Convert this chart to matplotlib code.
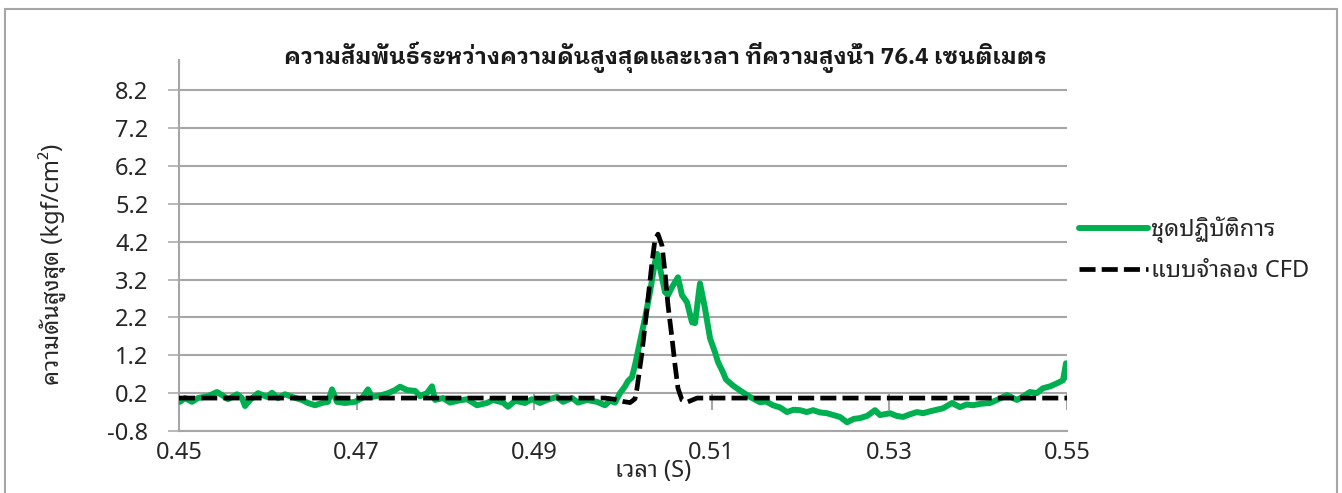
import matplotlib

matplotlib.use("Agg")
import matplotlib.pyplot as plt
from matplotlib.patches import Rectangle

plt.rcParams["font.family"] = ["Noto Sans Thai Looped", "Noto Sans", "DejaVu Sans"]

# ข้อมูลชุดปฏิบัติการ (เวลา s, ความดัน kgf/cm2)
t_lab = [
    0.45011, 0.45068, 0.45146, 0.45214, 0.45327, 0.45428, 0.45484, 0.45552,
    0.45653, 0.45709, 0.45743, 0.45800, 0.45890, 0.45991, 0.46047, 0.46115,
    0.46194, 0.46273, 0.46385, 0.46453, 0.46532, 0.46610, 0.46678, 0.46723,
    0.46779, 0.46869, 0.46982, 0.47061, 0.47128, 0.47173, 0.47286, 0.47354,
    0.47432, 0.47489, 0.47568, 0.47658, 0.47714, 0.47793, 0.47849, 0.47883,
    0.47973, 0.48052, 0.48142, 0.48243, 0.48356, 0.48468, 0.48536, 0.48649,
    0.48705, 0.48784, 0.48896, 0.48975, 0.49065, 0.49144, 0.49257, 0.49324,
    0.49426, 0.49493, 0.49595, 0.49707, 0.49797, 0.49854, 0.49910, 0.49966,
    0.50023, 0.50056, 0.50101, 0.50135, 0.50191, 0.50248, 0.50304, 0.50360,
    0.50383, 0.50417, 0.50473, 0.50507, 0.50552, 0.50619, 0.50664, 0.50721,
    0.50777, 0.50811, 0.50867, 0.50923, 0.50980, 0.51036, 0.51070, 0.51126,
    0.51160, 0.51239, 0.51318, 0.51430, 0.51543, 0.51610, 0.51689, 0.51770,
    0.51847, 0.51920, 0.51993, 0.52070, 0.52140, 0.52220, 0.52297, 0.52370,
    0.52444, 0.52523, 0.52600, 0.52669, 0.52750, 0.52838, 0.52894, 0.53007,
    0.53080, 0.53153, 0.53230, 0.53311, 0.53380, 0.53457, 0.53530, 0.53604,
    0.53705, 0.53795, 0.53870, 0.53941, 0.54030, 0.54133, 0.54230, 0.54324,
    0.54437, 0.54510, 0.54583, 0.54660, 0.54730, 0.54810, 0.54887, 0.54955,
    0.54989, 0.55000,
]
p_lab = [
    -0.03, 0.07, -0.03, 0.07, 0.12, 0.23, 0.15, 0.04,
    0.17, 0.07, -0.14, 0.02, 0.20, 0.10, 0.21, 0.07,
    0.17, 0.10, 0.02, -0.06, -0.12, -0.06, -0.03, 0.30,
    -0.03, -0.06, -0.03, 0.07, 0.30, 0.10, 0.15, 0.20,
    0.28, 0.37, 0.28, 0.26, 0.12, 0.20, 0.38, 0.02,
    0.07, -0.05, 0.00, 0.04, -0.12, -0.06, 0.02, -0.05,
    -0.16, 0.00, -0.06, 0.04, -0.06, 0.02, 0.10, -0.03,
    0.07, -0.05, 0.02, -0.03, -0.12, 0.00, -0.05, 0.20,
    0.38, 0.52, 0.62, 0.94, 1.55, 2.18, 2.87, 3.66,
    3.88, 3.50, 2.87, 2.79, 3.00, 3.26, 2.79, 2.60,
    2.07, 2.05, 3.10, 2.44, 1.65, 1.28, 1.02, 0.75,
    0.56, 0.40, 0.27, 0.10, -0.04, -0.02, -0.12, -0.18,
    -0.30, -0.24, -0.25, -0.30, -0.25, -0.31, -0.33, -0.38,
    -0.43, -0.57, -0.48, -0.46, -0.40, -0.25, -0.38, -0.33,
    -0.40, -0.43, -0.36, -0.30, -0.33, -0.28, -0.24, -0.20,
    -0.06, -0.17, -0.10, -0.12, -0.08, -0.06, 0.04, 0.15,
    0.02, 0.12, 0.23, 0.20, 0.33, 0.38, 0.46, 0.54,
    0.99, 0.62,
]

# ผลจากแบบจำลอง CFD
t_cfd = [
    0.45000, 0.49800, 0.49900, 0.50000, 0.50080, 0.50135, 0.50158, 0.50214,
    0.50270, 0.50327, 0.50360, 0.50394, 0.50439, 0.50473, 0.50507, 0.50552,
    0.50586, 0.50619, 0.50664, 0.50721, 0.50833, 0.55000,
]
p_cfd = [
    0.07, 0.07, 0.04, -0.02, -0.05, 0.05, 0.33, 1.28,
    2.44, 3.66, 4.25, 4.40, 4.10, 3.40, 2.52, 1.65,
    0.94, 0.33, 0.02, -0.04, 0.07, 0.07,
]

x_ticks = [0.45, 0.47, 0.49, 0.51, 0.53, 0.55]
y_ticks = [-0.8, 0.2, 1.2, 2.2, 3.2, 4.2, 5.2, 6.2, 7.2, 8.2]
y_lim = (-0.8, 9.0)
x_axis_at = 0.2
x_tick_drop = 0.45  # ความยาวขีดบอกตำแหน่งแกนนอน (หน่วยแกนตั้ง)

GRID = "#A6A6A6"
GREEN = "#00B050"
TEXT = "#262626"

W, H = 1342, 493
fig = plt.figure(figsize=(W / 100, H / 100), dpi=100)
ax = fig.add_axes([179 / W, 1 - 431 / H, (1067 - 179) / W, (431 - 60) / H])

ax.plot(t_lab, p_lab, color=GREEN, lw=4.3, solid_joinstyle="round",
        solid_capstyle="round", label="ชุดปฏิบัติการ", zorder=3)
ax.plot(t_cfd, p_cfd, color="black", lw=3.4, linestyle=(0, (3.4, 1.3)),
        dash_capstyle="butt", label="แบบจำลอง CFD", zorder=4)

ax.set_xlim(x_ticks[0], x_ticks[-1])
ax.set_ylim(*y_lim)
ax.set_yticks(y_ticks)
ax.set_yticklabels([f"{v:.1f}" for v in y_ticks])
ax.set_xticks(x_ticks)
ax.set_xticklabels([f"{v:.2f}" for v in x_ticks])
ax.grid(axis="y", color=GRID, lw=1.5)
ax.set_axisbelow(True)

for side in ("top", "right"):
    ax.spines[side].set_visible(False)
for side in ("left", "bottom"):
    ax.spines[side].set_color(GRID)
    ax.spines[side].set_linewidth(1.5)

ax.tick_params(axis="y", length=8, width=1.1, color=GRID, labelsize=17,
               pad=14, labelcolor=TEXT)
ax.tick_params(axis="x", length=0, labelsize=17, pad=7, labelcolor=TEXT)

# แกนนอนตัดแกนตั้งที่ 0.2 จึงวาดขีดบอกตำแหน่งชี้ลงจากเส้นนั้น
ax.vlines(x_ticks, x_axis_at - x_tick_drop, x_axis_at, color=GRID, lw=1.5,
          zorder=2)

fig.text(665 / W, 1 - 57 / H,
         "ความสัมพันธ์ระหว่างความดันสูงสุดและเวลา ที่ความสูงน้ำ 76.4 เซนติเมตร",
         fontsize=16.5, fontweight="bold", ha="center", va="center",
         color="#1a1a1a", family=["IBM Plex Sans Thai Looped", "Noto Sans"])
ax.set_ylabel("ความดันสูงสุด (kgf/cm²)", fontsize=17, color=TEXT)
ax.yaxis.set_label_coords(-0.126, 0.45)
ax.set_xlabel("เวลา (S)", fontsize=17, color=TEXT)
ax.xaxis.set_label_coords(0.534, -0.075)

ax.legend(loc="center left", bbox_to_anchor=(0.99, 0.488), frameon=False,
          fontsize=17, handlelength=2.9, handletextpad=0.15, labelspacing=0.7,
          labelcolor=TEXT)

fig.patches.append(Rectangle((5 / W, -0.05), (1337 - 5) / W, 1.05 - 9 / H,
                             transform=fig.transFigure, fill=False,
                             edgecolor=GRID, lw=1.5))

fig.savefig("out.png", dpi=100)
